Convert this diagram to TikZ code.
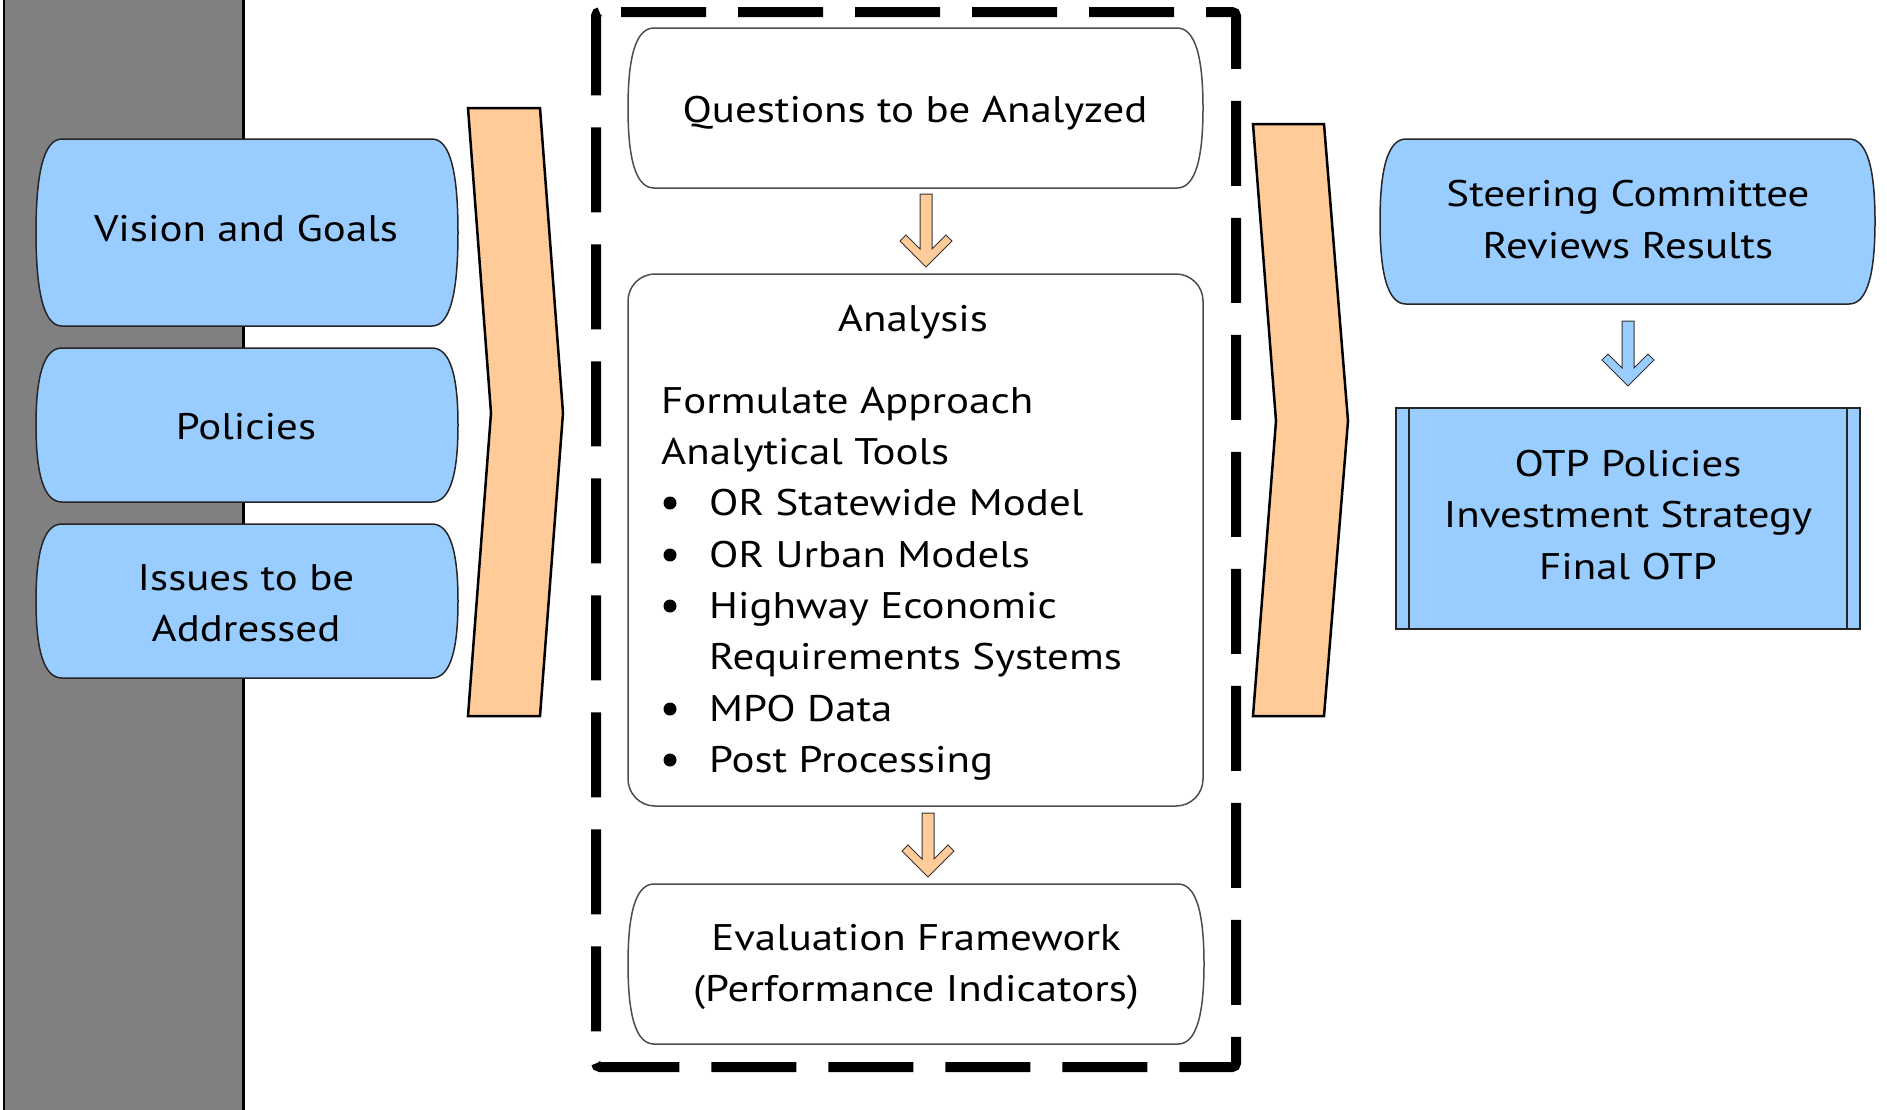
\documentclass[tikz,border=0pt]{standalone}
\usepackage{fontspec}
\setmainfont[FakeStretch=1.16]{PT Sans}
\definecolor{boxblue}{RGB}{153,204,255}
\definecolor{boxorange}{RGB}{255,204,153}
\definecolor{grayfill}{RGB}{128,128,128}
\newcommand\tapebox[5]{%
  \pgfmathsetmacro\tbym{(#2+#4)/2}%
  \pgfmathsetmacro\tbh{(#4-#2)/2*0.62}%
  \path[#5] ({#1+26},#2) -- ({#3-26},#2)
    .. controls ({#3-26+26*0.72},#2) and (#3,{\tbym-\tbh}) .. (#3,\tbym)
    .. controls (#3,{\tbym+\tbh}) and ({#3-26+26*0.72},#4) .. ({#3-26},#4)
    -- ({#1+26},#4)
    .. controls ({#1+26-26*0.72},#4) and (#1,{\tbym+\tbh}) .. (#1,\tbym)
    .. controls (#1,{\tbym-\tbh}) and ({#1+26-26*0.72},#2) .. ({#1+26},#2) -- cycle;}
\newcommand\blockarrow[4]{%
  \path[#4] ({#1-6},#2) -- ({#1+6},#2) -- ({#1+6},{#3-18}) -- ({#1+20},{#3-32})
    -- ({#1+26},{#3-26}) -- (#1,#3) -- ({#1-26},{#3-26}) -- ({#1-20},{#3-32})
    -- ({#1-6},{#3-18}) -- cycle;}
\begin{document}
\begin{tikzpicture}[x=1pt,y=-1pt,
  txt/.style={font=\fontsize{37}{51.5}\selectfont, inner sep=0pt, align=center},
  ltxt/.style={font=\fontsize{37}{51.5}\selectfont, inner sep=0pt, align=left},
  bluebox/.style={fill=boxblue, draw=black!85, line width=1.5pt},
  whitebox/.style={fill=white, draw=black!70, line width=1.5pt},
  chevron/.style={fill=boxorange, draw=black, line width=2.5pt},
  orangearrow/.style={fill=boxorange, draw=black!80, line width=1pt},
  bluearrow/.style={fill=boxblue, draw=black!80, line width=1pt},
  bulletdot/.style={circle, fill=black, inner sep=0pt, minimum size=13pt},
  dashframe/.style={draw=black, line width=10pt, dash pattern=on 85pt off 32pt, dash phase=96pt, rounded corners=4pt}]
\useasboundingbox (0,0) rectangle (1887,1109);
% gray band
\path[fill=grayfill] (4,-10) rectangle (243,1120);
\draw[line width=1.5pt] (4,-10) -- (4,1120);
\draw[line width=2.5pt] (243.5,-10) -- (243.5,1120);
% left boxes
\tapebox{36}{139}{458}{326}{bluebox}
\tapebox{36}{348}{458}{502}{bluebox}
\tapebox{36}{524}{458}{678}{bluebox}
\node[txt, anchor=base] (vision) at (246,241) {Vision and Goals};
\node[txt, anchor=base] (policies) at (246,439) {Policies};
\node[txt] (issues) at (246,605.7) {\strut Issues to be\\\strut Addressed};
% chevrons
\path[chevron] (468,108) -- (540,108) -- (563,413) -- (540,716) -- (468,716) -- (491,413) -- cycle;
\path[chevron] (1253,124) -- (1324,124) -- (1348,421) -- (1324,716) -- (1253,716) -- (1276,421) -- cycle;
% dashed frame
\path[dashframe] (596,12) -- (1236,12) -- (1236,1067) -- (596,1067) -- cycle;
% middle boxes
\tapebox{628}{28}{1203}{188}{whitebox}
\node[txt, anchor=base] (questions) at (915,122) {Questions to be Analyzed};
\blockarrow{926}{194}{267}{orangearrow}
\path[whitebox, rounded corners=27pt] (628,274) rectangle (1203,806);
\node[txt, anchor=base] (analysis) at (913,331) {Analysis};
\node[ltxt, anchor=base west] (formulate) at (661,413) {Formulate Approach};
\node[ltxt, anchor=base west] (tools) at (661,464) {Analytical Tools};
\node[bulletdot] (b1) at (670,503) {};
\node[ltxt, anchor=base west] (i1) at (709,515) {OR Statewide Model};
\node[bulletdot] (b2) at (670,555) {};
\node[ltxt, anchor=base west] (i2) at (709,567) {OR Urban Models};
\node[bulletdot] (b3) at (670,606) {};
\node[ltxt, anchor=north west] (i3) at (709,581.95) {\strut Highway Economic\\\strut Requirements Systems};
\node[bulletdot] (b4) at (670,709) {};
\node[ltxt, anchor=base west] (i4) at (709,721) {MPO Data};
\node[bulletdot] (b5) at (670,760) {};
\node[ltxt, anchor=base west] (i5) at (709,772) {Post Processing};
\blockarrow{928}{813}{877}{orangearrow}
\tapebox{628}{884}{1204}{1044}{whitebox}
\node[txt] (evaluation) at (916,965.7) {\strut Evaluation Framework\\\strut (Performance Indicators)};
% right side
\tapebox{1380}{139}{1875}{304}{bluebox}
\node[txt] (steering) at (1628,222.2) {\strut Steering Committee\\\strut Reviews Results};
\blockarrow{1628}{321}{386}{bluearrow}
\path[bluebox] (1396,408) rectangle (1860,629);
\draw[line width=1.5pt, black!85] (1409,408) -- (1409,629);
\draw[line width=1.5pt, black!85] (1847,408) -- (1847,629);
\node[txt] (otp) at (1628,517.2) {\strut OTP Policies\\\strut Investment Strategy\\\strut Final OTP};
\end{tikzpicture}
\end{document}
